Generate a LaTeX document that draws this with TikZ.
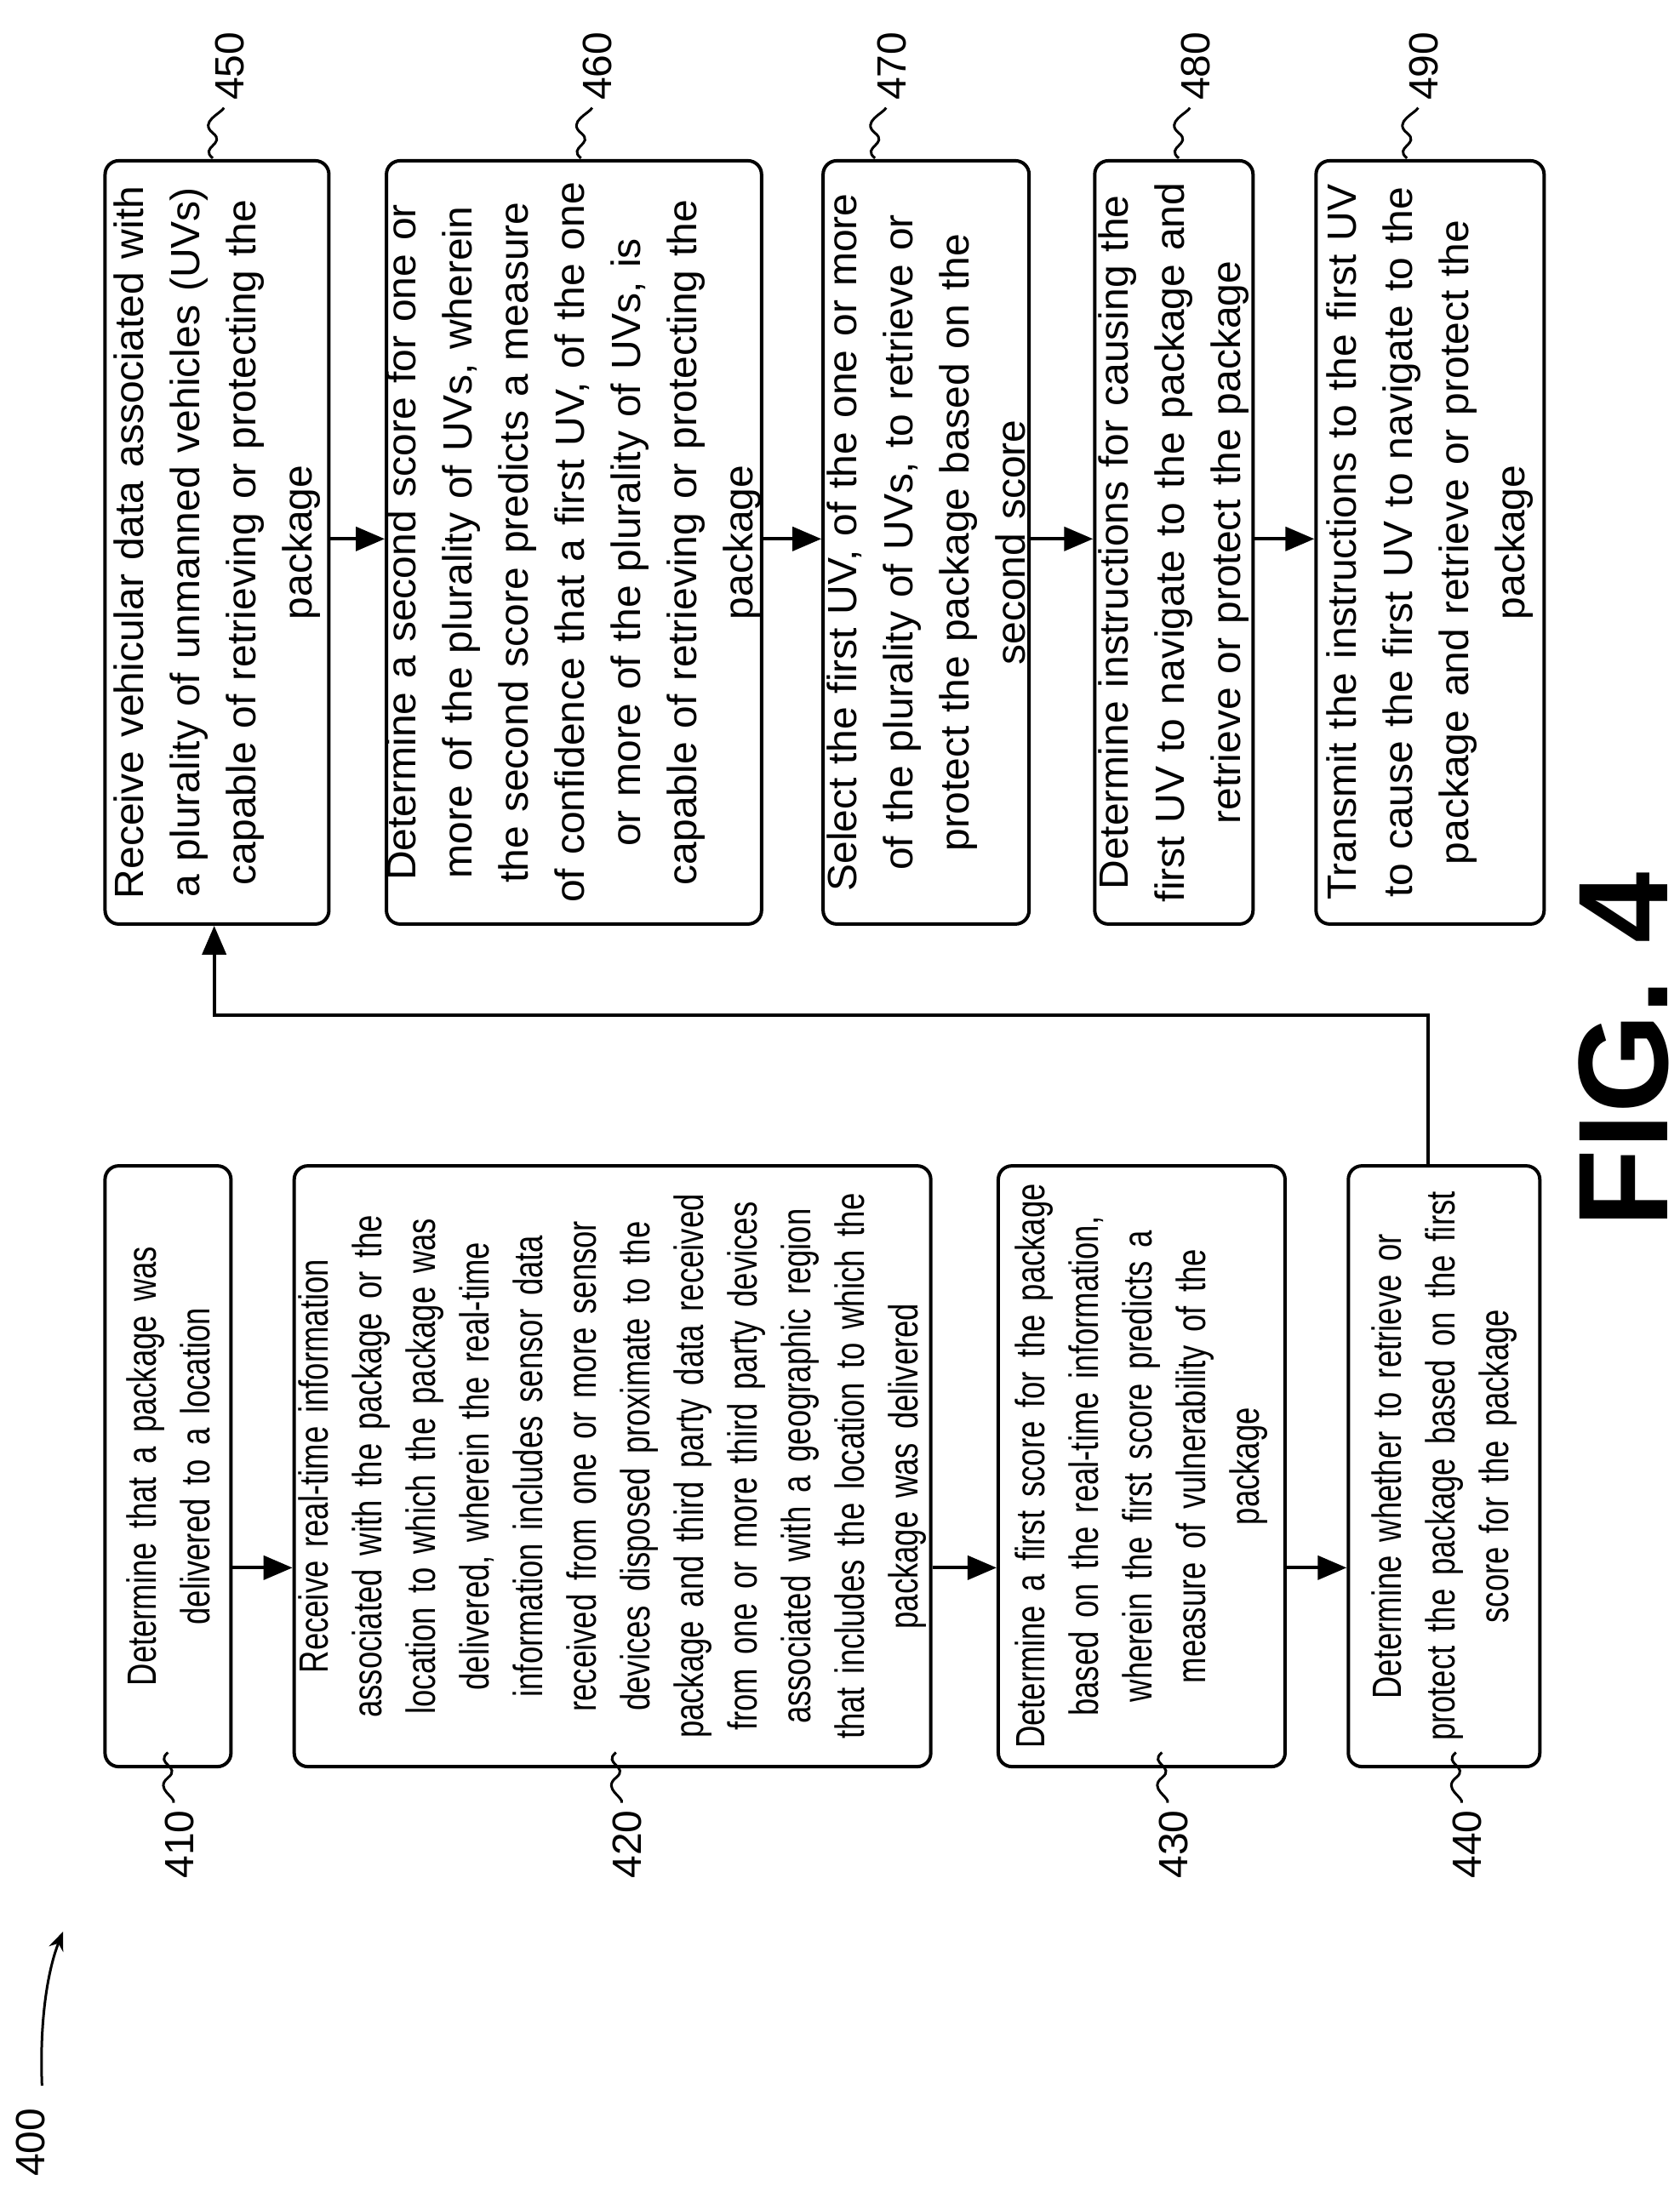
\documentclass[tikz,border=0pt]{standalone}
\usepackage{fontspec}
\setmainfont{Liberation Sans}
\newfontfamily\narrowf[FakeStretch=0.76,WordSpace=0.76]{Liberation Sans}
\usetikzlibrary{arrows.meta}
\begin{document}
\begin{tikzpicture}[x=1.645pt,y=-1.645pt,
  box/.style 2 args={draw, line width=4pt, rounded corners=16pt, rotate=90, align=center, inner sep=0pt,
    minimum width=#1pt, minimum height=#2pt, text width={#1pt-30pt}, font=\fontsize{48}{66}\selectfont},
  nbox/.style 2 args={box={#1}{#2}, text width={#1pt+40pt}, font=\narrowf\fontsize{48}{63}\selectfont},
  lab/.style={rotate=90, inner sep=2pt, font=\fontsize{48}{58}\selectfont},
  conn/.style={line width=4pt, -{Triangle[length=34pt,width=28pt]}},
  sq/.style={line width=3pt}]
\useasboundingbox (0,0) rectangle (1200,1566);
% bottom row
\node[nbox={666}{148}] (b410) at (120,1047.5) {Determine that a package was\\delivered to a location};
\node[nbox={666}{748}] (b420) at (437.5,1047.5) {Receive real-time information\\associated with the package or the\\location to which the package was\\delivered, wherein the real-time\\information includes sensor data\\received from one or more sensor\\devices disposed proximate to the\\package and third party data received\\from one or more third party devices\\associated with a geographic region\\that includes the location to which the\\package was delivered};
\node[nbox={666}{337}] (b430) at (815.5,1047.5) {Determine a first score for the package\\based on the real-time information,\\wherein the first score predicts a\\measure of vulnerability of the\\package};
\node[nbox={666}{225}] (b440) at (1031.5,1047.5) {Determine whether to retrieve or\\protect the package based on the first\\score for the package};
% top row
\node[box={897}{263}] (b450) at (155,387.5) {Receive vehicular data associated with\\a plurality of unmanned vehicles (UVs)\\capable of retrieving or protecting the\\package};
\node[box={897}{428}] (b460) at (410,387.5) {Determine a second score for one or\\more of the plurality of UVs, wherein\\the second score predicts a measure\\of confidence that a first UV, of the one\\or more of the plurality of UVs, is\\capable of retrieving or protecting the\\package};
\node[box={897}{242}] (b470) at (661.5,387.5) {Select the first UV, of the one or more\\of the plurality of UVs, to retrieve or\\protect the package based on the\\second score};
\node[box={897}{186}] (b480) at (838.5,387.5) {Determine instructions for causing the\\first UV to navigate to the package and\\retrieve or protect the package};
\node[box={897}{268}] (b490) at (1021.5,387.5) {Transmit the instructions to the first UV\\to cause the first UV to navigate to the\\package and retrieve or protect the\\package};
% arrows
\coordinate (yb) at (0,1120);
\coordinate (yt) at (0,385);
\draw[conn] (b410.south |- yb) -- (b420.north |- yb);
\draw[conn] (b420.south |- yb) -- (b430.north |- yb);
\draw[conn] (b430.south |- yb) -- (b440.north |- yb);
\draw[conn] (b450.south |- yt) -- (b460.north |- yt);
\draw[conn] (b460.south |- yt) -- (b470.north |- yt);
\draw[conn] (b470.south |- yt) -- (b480.north |- yt);
\draw[conn] (b480.south |- yt) -- (b490.north |- yt);
\coordinate (c1) at (1020,725);
\coordinate (c2) at (153,725);
\draw[conn] (b440.east -| c1) -- (c1) -- (c2) -- (b450.west -| c2);
% bottom labels
\foreach \n/\x in {410/120,420/440,430/830,440/1040}{
  \draw[sq] (\x,1252) .. controls (\x-10,1260) and (\x+10,1262) .. (\x,1270) .. controls (\x-10,1278) and (\x+6,1284) .. (\x+4,1288);
  \node[lab,anchor=east] at (\x+8,1292) {\n};
}
% top labels
\foreach \n/\x in {450/152,460/415,470/625,480/842,490/1005}{
  \draw[sq] (\x,113) .. controls (\x-10,105) and (\x+10,103) .. (\x,95) .. controls (\x-10,87) and (\x+6,81) .. (\x+8,77);
  \node[lab,anchor=west] at (\x+12,73) {\n};
}
% 400
\node[lab,anchor=east] (l400) at (22,1505) {400};
\coordinate (a400) at (45,1380);
\draw[line width=3pt,-{Stealth[length=22pt,width=18pt]}] (30,1490) .. controls (28,1440) and (35,1405) .. (a400);
\node[rotate=90, font=\bfseries\fontsize{150}{150}\selectfont] (fig) at (1160,750) {FIG. 4};
\end{tikzpicture}
\end{document}
